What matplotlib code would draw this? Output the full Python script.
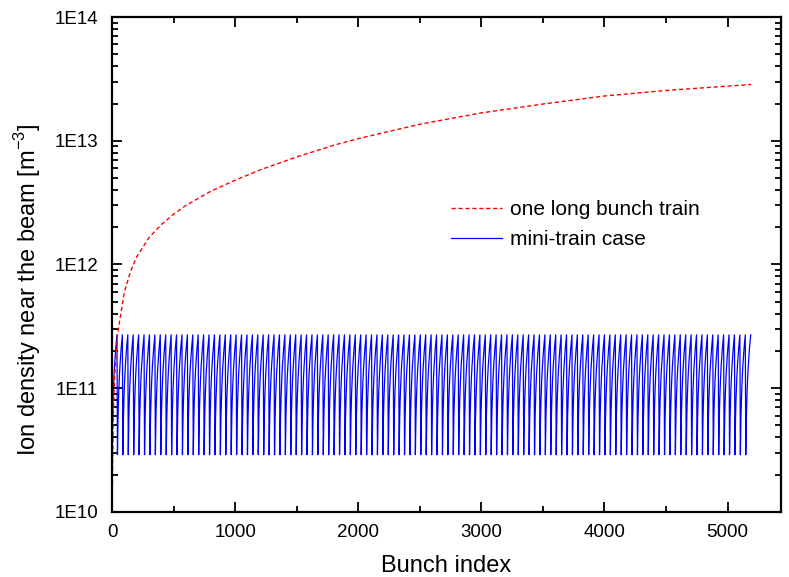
import matplotlib
matplotlib.use('Agg')
import matplotlib.pyplot as plt
import numpy as np
from matplotlib.ticker import FixedLocator, FuncFormatter, LogLocator, MultipleLocator

plt.rcParams['font.family'] = ['Liberation Sans', 'DejaVu Sans']

# One long bunch train: ion density
train_x = [0, 10, 20, 44, 100, 150, 200, 300, 400, 500, 600, 800, 1000, 1200,
           1500, 1800, 2000, 2500, 3000, 3500, 4000, 4500, 5192]
train_y = [1.0e10, 6.0e10, 1.2e11, 2.7e11, 6.0e11, 8.8e11, 1.15e12, 1.65e12,
           2.1e12, 2.55e12, 3.0e12, 3.9e12, 4.8e12, 5.8e12, 7.4e12, 9.2e12,
           1.04e13, 1.36e13, 1.68e13, 1.98e13, 2.3e13, 2.55e13, 2.85e13]

# Mini-train case: one tooth (offset within the mini-train, density), repeated
tooth_dx = [0, 5, 10, 15, 20, 25, 30, 35, 40, 44]
tooth_y = [2.9e10, 6.0e10, 9.0e10, 1.2e11, 1.5e11, 1.8e11, 2.1e11, 2.4e11, 2.7e11, 2.9e10]
n_trains = 118
period = 44

mini_x = []
mini_y = []
for k in range(n_trains):
    mini_x.extend([k * period + d for d in tooth_dx[:-1]])
    mini_y.extend(tooth_y[:-1])
mini_x.append(n_trains * period - tooth_dx[-1] + tooth_dx[-2])
mini_y.append(tooth_y[-2])

fig = plt.figure(figsize=(7.89, 5.77), dpi=100)
ax = fig.add_axes([0.142, 0.1127, 0.848, 0.8578])

ax.plot(mini_x, mini_y, color='blue', lw=0.9, label='mini-train case')
ax.plot(train_x, train_y, color='red', lw=1.0, dashes=(3, 2), label='one long bunch train')

ax.set_yscale('log')
ax.set_ylim(1e10, 1e14)
ax.set_xlim(0, 5435)

ax.xaxis.set_major_locator(MultipleLocator(1000))
ax.xaxis.set_minor_locator(MultipleLocator(500))
ax.yaxis.set_major_locator(FixedLocator([1e10, 1e11, 1e12, 1e13, 1e14]))
ax.yaxis.set_minor_locator(LogLocator(base=10, subs=np.arange(2, 10)))
ax.yaxis.set_major_formatter(FuncFormatter(lambda v, p: '1E%d' % round(np.log10(v))))

ax.tick_params(which='both', direction='in', top=True, right=True, labelsize=13.5, width=1.3)
ax.tick_params(which='major', length=7)
ax.tick_params(axis='x', which='major', pad=9)
ax.tick_params(axis='y', which='major', pad=10)
ax.tick_params(which='minor', length=4)
for s in ax.spines.values():
    s.set_linewidth(1.6)

ax.set_xlabel('Bunch index', fontsize=17, labelpad=10)
ax.set_ylabel(r'Ion density near the beam [m$^{\mathregular{-3}}$]', fontsize=17)
ax.yaxis.set_label_coords(-0.103, 0.45)

h, l = ax.get_legend_handles_labels()
ax.legend(h[::-1], l[::-1], loc='upper left', bbox_to_anchor=(0.478, 0.668), frameon=False,
          fontsize=15, handlelength=2.45, handletextpad=0.4, labelspacing=0.52)

fig.savefig('out.png', dpi=100)
